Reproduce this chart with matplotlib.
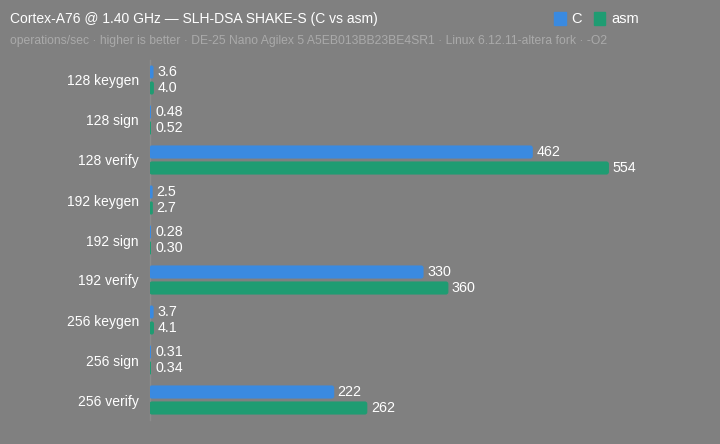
import matplotlib.pyplot as plt
import numpy as np
from matplotlib.patches import Patch, FancyBboxPatch

plt.rcParams['font.family'] = ['Liberation Sans', 'DejaVu Sans']

categories = ['128 keygen', '128 sign', '128 verify',
              '192 keygen', '192 sign', '192 verify',
              '256 keygen', '256 sign', '256 verify']
c_vals = [3.6, 0.48, 462, 2.5, 0.28, 330, 3.7, 0.31, 222]
asm_vals = [4.0, 0.52, 554, 2.7, 0.30, 360, 4.1, 0.34, 262]
c_labels = ['3.6', '0.48', '462', '2.5', '0.28', '330', '3.7', '0.31', '222']
asm_labels = ['4.0', '0.52', '554', '2.7', '0.30', '360', '4.1', '0.34', '262']

bg = '#808080'
blue = '#3a8ae0'
green = '#1f9c72'

fig = plt.figure(figsize=(7.2, 4.44), dpi=100, facecolor=bg)
ax = fig.add_axes([150 / 720, 1 - 420 / 444, 550 / 720, 360 / 444])
ax.set_facecolor(bg)

y = np.arange(len(categories))
h = 0.3
off = 0.2
xmax = max(asm_vals) * 1.2
ax.set_xlim(0, xmax)
ax.set_ylim(len(categories) - 0.5, -0.5)
px = xmax / 550          # data units per pixel in x
py = 1 / 40              # data units per pixel in y

bars_c = ax.barh(y - off, c_vals, height=h, color=blue)
bars_a = ax.barh(y + off, asm_vals, height=h, color=green)

# swap the plain rectangles for slightly rounded ones
for bars, col in [(bars_c, blue), (bars_a, green)]:
    for r in bars:
        x0, y0 = r.get_x(), r.get_y()
        w, hh = r.get_width(), r.get_height()
        r.remove()
        rad = min(2 * px, w / 2)
        fb = FancyBboxPatch((x0, y0), w, hh,
                            boxstyle=f"round,pad=0,rounding_size={rad}",
                            mutation_aspect=py / px,
                            facecolor=col, edgecolor=col, linewidth=0.8, zorder=3)
        ax.add_patch(fb)

for i in range(len(categories)):
    ax.text(max(c_vals[i], 2 * px) + 4 * px, y[i] - off, c_labels[i],
            va='center', ha='left', color='white', fontsize=10.3)
    ax.text(max(asm_vals[i], 2 * px) + 4 * px, y[i] + off, asm_labels[i],
            va='center', ha='left', color='white', fontsize=10.3)

ax.set_yticks(y)
ax.set_yticklabels(categories, color='white', fontsize=10)
ax.tick_params(axis='y', length=0, pad=8)
ax.set_xticks([])
for s in ['top', 'right', 'bottom']:
    ax.spines[s].set_visible(False)
ax.spines['left'].set_color('#8c8c8c')
ax.spines['left'].set_linewidth(1)
ax.spines['left'].set_zorder(1)

fig.text(10 / 720, 1 - 19 / 444, 'Cortex-A76 @ 1.40 GHz \u2014 SLH-DSA SHAKE-S (C vs asm)',
         color='white', fontsize=10, va='center', ha='left')
fig.text(10 / 720, 1 - 41 / 444,
         'operations/sec \u00b7 higher is better \u00b7 DE-25 Nano Agilex 5 A5EB013BB23BE4SR1 \u00b7 Linux 6.12.11-altera fork \u00b7 -O2',
         color='#aaaaaa', fontsize=8.7, va='center', ha='left')

handles = [Patch(color=blue, label='C'), Patch(color=green, label='asm')]
fig.legend(handles=handles, loc='center right', bbox_to_anchor=(652 / 720, 1 - 19 / 444),
           ncol=2, frameon=False, fontsize=10.5, handlelength=0.8, handleheight=1.0,
           handletextpad=0.4, columnspacing=0.8, labelcolor='white')

fig.savefig('out.png', dpi=100, facecolor=bg)
